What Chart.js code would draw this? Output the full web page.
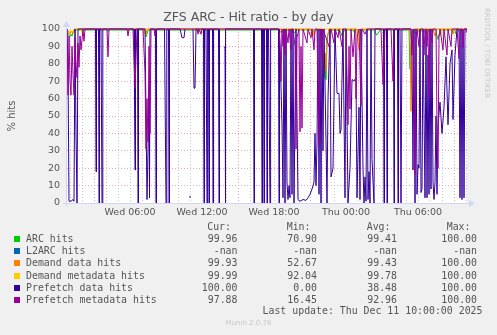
<!DOCTYPE html>
<html lang="en">
<head>
<meta charset="UTF-8">
<title>ZFS ARC - Hit ratio - by day</title>
<script src="https://cdn.jsdelivr.net/npm/chart.js"></script>
<style>
  * { box-sizing: border-box; margin: 0; padding: 0; }
  body { background: #f0f0f0; }
  .wrap { position: relative; width: 497px; height: 335px; background: #f0f0f0; overflow: hidden; }
  .wrap canvas { position: absolute; left: 0; top: 0; }
  .title { position: absolute; left: 0; width: 497px; top: 9px; text-align: center;
           font: 12.5px 'DejaVu Sans', sans-serif; color: #555; }
  .brand { position: absolute; left: 483px; top: 8px; writing-mode: vertical-rl;
           font: 7px 'DejaVu Sans', sans-serif; color: #c8c8c8; }
  .lg { position: absolute; font: 9.9px 'DejaVu Sans Mono', monospace; color: #555; line-height: 12px; white-space: pre; }
  .sw { position: absolute; width: 6px; height: 6px; }
  .munin { position: absolute; left: 0; width: 497px; top: 319px; text-align: center;
           font: 7px 'DejaVu Sans', sans-serif; color: #c8c8c8; }
</style>
</head>
<body>
<div class="wrap" id="wrap">
  <canvas id="c" width="497" height="335"></canvas>
  <div class="title">ZFS ARC - Hit ratio - by day</div>
  <div class="brand">RRDTOOL / TOBI OETIKER</div>
  <div class="munin">Munin 2.0.76</div>
</div>
<script>
// x = 5 minute sample index, 0 = Wed 00:45, 400 = Thu 10:05
const START_HOUR = 0.75;

const seriesNames  = ['ARC hits', 'L2ARC hits', 'Demand data hits', 'Demand metadata hits', 'Prefetch data hits', 'Prefetch metadata hits'];
const seriesColors = ['#00cc00', '#0066b3', '#ff8000', '#ffcc00', '#330099', '#990099'];
const curVals = ['99.96', '-nan', '99.93', '99.99', '100.00', '97.88'];
const minVals = ['70.90', '-nan', '52.67', '92.04', '0.00', '16.45'];
const avgVals = ['99.41', '-nan', '99.43', '99.78', '38.48', '92.96'];
const maxVals = ['100.00', '-nan', '100.00', '100.00', '100.00', '100.00'];

const arcHits = [[0,99],[1,98],[2,96],[3,95.5],[4,97],[5,96],[6,98.5],[8,99.4],[40,99.4],[41,98.5],[42,99.4],
  [78,99.4],[79,95.5],[80,97],[81,99.4],[130,99.4],[131,98.8],[132,99.4],[212,99.4],[214,98],[216,99.4],
  [225,99.2],[227,97.5],[229,99.4],[245,99.4],[247,97],[248,99.4],[254,99.4],[255,93],[256,84],[257,72],
  [258,86],[259,70.9],[260,92],[261,97],[263,99.4],[273,99.2],[275,96],[276,98],[278,99.4],[286,99.4],
  [288,97.5],[289,99.4],[308,99.4],[309,97],[310,96.5],[311,97.5],[313,99.4],[342,99.4],[343,77],[344,92],
  [345,96],[346,99],[350,97.5],[352,99.4],[360,98],[362,99.4],[369,99.4],[370,96],[371,94],[372,97],
  [374,99.4],[388,99.4],[389,97],[390,98.5],[392,99.4],[400,99.96]];

const l2arcHits = [];

const demandData = [[0,100],[2,98],[3,97],[4,99],[6,97.5],[8,100],[78,100],[79,97],[80,100],[214,100],[215,98],
  [216,100],[246,100],[247,96],[248,99],[250,100],[255,100],[256,88],[257,74],[258,86],[259,76],[260,95],
  [262,100],[290,100],[291,93],[292,88],[293,94],[294,100],[343,100],[344,52.7],[345,88],[346,97],[347,100],
  [352,100],[353,97],[354,100],[366,100],[368,96],[370,100],[385,100],[386,97],[387,100],[400,99.93]];

const demandMeta = [[0,100],[1,98],[2,97.5],[3,99],[5,98],[7,100],[14,100],[15,97.5],[16,100],[60,100],[61,98],
  [62,100],[76,100],[77,97],[78,100],[132,100],[133,98],[134,100],[216,100],[218,97.5],[219,100],[240,100],
  [242,97],[244,98.5],[246,96],[248,100],[289,100],[290,94],[291,92.04],[292,96],[293,100],[344,100],
  [345,97],[346,95],[348,100],[358,100],[360,97],[362,100],[372,100],[374,96.5],[376,100],[393,100],
  [394,98],[395,100],[400,99.99]];

const prefetchData = [[0,100],[1,77],[2,1],[4,1],[6,2],[7,1],[8,100],[9,40],[10,0],[11,100],
  [28.5,100],[29,18],[29.5,100],[31.5,100],[32,0],[32.5,100],[34,100],[35,0],[35.8,100],
  [67,100],[67.5,62],[68,19],[68.5,100],[70.5,100],[71,0],[71.5,100],
  [78,100],[80,2],[82,60],[82.5,3],[83,100],[88.5,100],[89,0],[89.5,100],
  [97.5,100],[99,0],[99.8,100],[101.5,100],[102,0],[102.5,100],
  [113,100],[115,95],[117,95],[118,100],[121,null],[122,3.5],[124,3.5],[125,null],
  [126,100],[127,66],[128,66],[129,100],
  [136.5,100],[137,0],[137.5,100],[139,100],[140,0],[140.6,100],[141.5,100],[142,0],[142.5,100],
  [145.5,100],[146,0],[146.5,100],[151.5,100],[152,0],[152.5,100],
  [156,null],[157,89.6],[158,89.6],[158.3,0],[158.7,100],
  [186.5,100],[187,0],[187.5,100],[194.5,100],[195,0],[195.5,100],[196.5,100],[197,0],[197.5,100],
  [199.5,100],[200,0],[200.5,100],[201.5,100],[203,0],[203.6,100],
  [211.5,100],[212,0],[212.5,100],[215,45],[216,3],[217,100],[218,0],[219,100],[220,12],
  [221,2],[222,10],[223,3],[224,100],[225,5],[226,100],[227,0],[229,100],[231,2],[233,1],[236,2],[239,1.5],
  [241,3],[243,5],[245,8],[247,12],[248,40],[249,10],[250,35],[251,100],[252,5],[253,100],[254,0],[255,100],
  [256,30],[257,100],[259,36],[260,0],[261,60],[263,100],[264,15],[266,20],[268,100],[270,63],[272,63],
  [273,40],[274,42],[276,100],[278,3],[279,100],[281,0],[283,20],[285,71],[287,70],[289,72],[290,3],[292,55],
  [293,2],[294,100],[296,20],[297,0],[298,15],[299,1],[300,100],[301,2],[302,18],[303,0],[304,100],[305,25],
  [307,0],[308,100],[316.5,100],[317,0],[317.5,100],[319.5,100],[320,0],[320.5,100],[326.5,100],[327,0],
  [327.5,100],[330.5,100],[331,0],[331.5,100],[333,100],[334,0],[335,100],
  [344,100],[345,84],[346,19],[347,100],[348,0],[349,100],
  [350,5],[351,22],[352,20],[353,100],[354,6],[355,8],[356,100],[358,3],[359,100],[360,3],[361,85],[362,5],
  [363,100],[364,8],[365,100],[366,12],[367,2],[368,12],[369,50],[370,5],[371,45],[373,58],[375,40],[377,55],
  [379,84],[381,45],[383,80],[385,88],[386,48],[388,85],[390,100],[392,100],[393,3],[394,100],[395,2],
  [396,100],[397,3],[398,100],[400,100]];

const prefetchMeta = [[0,100],[1,62],[2,96],[3,70],[4,62],[5,90],[6,74],[7,62],[8,95],[9,80],[10,72],[11,92],
  [12,78],[13,96],[14,88],[16,100],[17,93],[18,100],[40,100],[41,84],[42,100],[60,100],[61,96],[62,100],
  [66,100],[68,66],[70,100],[76,100],[78,75],[79,31],[80,60],[81,35],[82,90],[83,40],[84,100],[87,100],
  [88,96],[89,100],[130,100],[131,97],[132,100],[134,97],[135,100],[212,100],[213,90],[214,70],[215,100],
  [216,90],[217,100],[218,85],[219,100],[221,92],[222,100],[224,88],[225,100],[226,100],[228,90],[229,31],
  [230,95],[232,100],[233,41],[234,90],[235,43],[236,100],[238,96],[240,92],[241,100],[244,95],[245,100],
  [247,88],[248,100],[250,100],[252,33],[253,95],[254,100],[255,83],[256,100],[262,90],[264,100],[267,92],
  [268,100],[271,95],[272,100],[275,90],[276,100],[279,100],[281,45],[282,90],[283,54],[284,100],[286,84],
  [288,100],[289,60],[290,95],[292,100],[294,56],[295,100],[298,97],[300,100],[314,100],[316,68],[318,100],
  [324,100],[326,70],[327,100],[344,100],[345,85],[346,100],[348,16.5],[349,95],[350,100],[352,90],[353,100],
  [356,100],[357,85],[358,100],[360,90],[361,100],[362,60],[363,100],[365,92],[366,100],[369,100],[370,45],
  [371,20],[372,95],[373,100],[376,88],[377,100],[380,85],[381,100],[384,90],[385,100],[390,100],[392,83],
  [393,100],[395,100],[396,89],[397,100],[399,100],[400,97.88]];

const seriesData = [arcHits, l2arcHits, demandData, demandMeta, prefetchData, prefetchMeta];

// legend, drawn as text under the graph
const wrap = document.getElementById('wrap');
function addText(txt, top, opts) {
  const d = document.createElement('div');
  d.className = 'lg';
  d.textContent = txt;
  d.style.top = top + 'px';
  if (opts.left != null) d.style.left = opts.left + 'px';
  if (opts.right != null) { d.style.right = (497 - opts.right) + 'px'; d.style.textAlign = 'right'; }
  wrap.appendChild(d);
}
const headTop = 221;
addText('Cur:', headTop, { right: 231 });
addText('Min:', headTop, { right: 310.5 });
addText('Avg:', headTop, { right: 390.5 });
addText('Max:', headTop, { right: 470.5 });
seriesNames.forEach((name, k) => {
  const top = 233.3 + k * 12.08;
  const sw = document.createElement('div');
  sw.className = 'sw';
  sw.style.left = '14px';
  sw.style.top = (top + 3) + 'px';
  sw.style.background = seriesColors[k];
  wrap.appendChild(sw);
  addText(name, top, { left: 26 });
  addText(curVals[k], top, { right: 237.5 });
  addText(minVals[k], top, { right: 317 });
  addText(avgVals[k], top, { right: 397 });
  addText(maxVals[k], top, { right: 477 });
});
addText('Last update: Thu Dec 11 10:00:00 2025', 304.7, { right: 482.5 });

function hourOf(i) { return Math.round(START_HOUR + i / 12); }
function hourLabel(h) {
  const day = h < 24 ? 'Wed' : 'Thu';
  return day + ' ' + String(h % 24).padStart(2, '0') + ':00';
}

const AXIS = '#cfd6f8';
const rrdBack = {
  id: 'rrdBack',
  beforeDraw(chart) {
    const { ctx, chartArea: a } = chart;
    ctx.save();
    ctx.fillStyle = '#f0f0f0';
    ctx.fillRect(0, 0, chart.width, chart.height);
    ctx.fillStyle = '#ffffff';
    ctx.fillRect(a.left, a.top, a.right - a.left, a.bottom - a.top);
    ctx.restore();
  },
  afterDatasetsDraw(chart) {
    const { ctx, chartArea: a } = chart;
    ctx.save();
    ctx.strokeStyle = AXIS;
    ctx.lineWidth = 1;
    ctx.beginPath();
    ctx.moveTo(a.left - 4, a.bottom + 0.5);
    ctx.lineTo(a.right + 4, a.bottom + 0.5);
    ctx.moveTo(a.left - 0.5, a.bottom + 4);
    ctx.lineTo(a.left - 0.5, a.top - 3);
    ctx.stroke();
    ctx.fillStyle = AXIS;
    ctx.beginPath();
    ctx.moveTo(a.right + 8, a.bottom + 0.5);
    ctx.lineTo(a.right + 2, a.bottom - 3);
    ctx.lineTo(a.right + 2, a.bottom + 4);
    ctx.closePath();
    ctx.fill();
    ctx.beginPath();
    ctx.moveTo(a.left - 0.5, a.top - 8);
    ctx.lineTo(a.left - 4, a.top - 2);
    ctx.lineTo(a.left + 3, a.top - 2);
    ctx.closePath();
    ctx.fill();
    ctx.restore();
  }
};

const MINOR = '#cbcbcb';
const MAJOR = '#e6a6a6';

new Chart(document.getElementById('c'), {
  type: 'line',
  data: {
    datasets: seriesData.map((d, k) => ({
      label: seriesNames[k],
      data: d,
      borderColor: seriesColors[k],
      backgroundColor: seriesColors[k],
      borderWidth: 1,
      pointRadius: 0,
      tension: 0,
      fill: false,
      spanGaps: false,
      clip: { left: 0, top: 2, right: 0, bottom: 1 },
      order: 6 - k
    }))
  },
  options: {
    responsive: false,
    devicePixelRatio: 1,
    animation: false,
    events: [],
    layout: { padding: { top: 29, right: 30, bottom: 112, left: 0 } },
    plugins: { legend: { display: false }, tooltip: { enabled: false } },
    scales: {
      x: {
        type: 'linear',
        min: 0,
        max: 400,
        afterBuildTicks: (scale) => {
          const t = [];
          for (let h = 1; h <= 34; h++) t.push({ value: (h - START_HOUR) * 12 });
          scale.ticks = t;
        },
        afterFit: (scale) => { scale.height = 20; },
        ticks: {
          autoSkip: false,
          maxRotation: 0,
          padding: 4,
          color: '#555',
          font: { family: 'DejaVu Sans', size: 9.5 },
          callback: (v) => { const h = hourOf(v); return h % 6 === 0 ? hourLabel(h) : ''; }
        },
        grid: {
          drawTicks: false,
          color: (c) => (hourOf(c.tick.value) % 6 === 3 ? MAJOR : MINOR)
        },
        border: { display: false, dash: [1, 2] }
      },
      y: {
        min: 0,
        max: 100,
        afterFit: (scale) => { scale.width = 67; },
        ticks: {
          stepSize: 5,
          padding: 7,
          color: '#555',
          font: { family: 'DejaVu Sans', size: 9.5 },
          callback: (v) => (v % 10 === 0 ? String(v) : '')
        },
        grid: {
          drawTicks: false,
          color: (c) => (c.tick.value % 10 === 0 ? MAJOR : MINOR)
        },
        border: { display: false, dash: [1, 2] },
        title: {
          display: true,
          text: '% hits',
          color: '#555',
          font: { family: 'DejaVu Sans', size: 10 },
          padding: { top: 6, bottom: 0 }
        }
      }
    }
  },
  plugins: [rrdBack]
});
</script>
</body>
</html>
